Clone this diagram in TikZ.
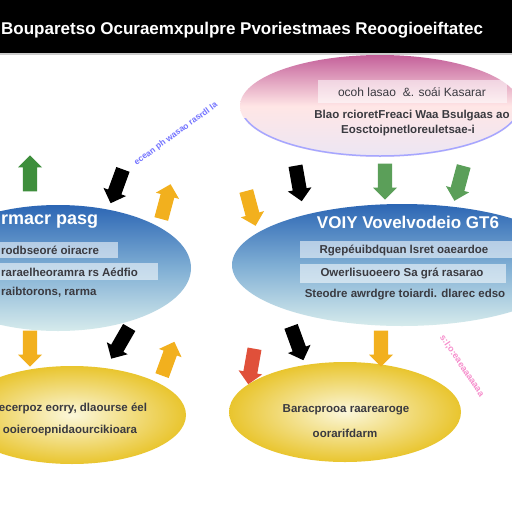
\documentclass[tikz,border=0pt]{standalone}
\usepackage{fontspec}
\setmainfont{Liberation Sans}
\usetikzlibrary{shapes.arrows,shapes.geometric}
\definecolor{pinkT}{HTML}{C4609A}
\definecolor{pinkB}{HTML}{ECE6F4}
\definecolor{blueT}{HTML}{2C66B4}
\definecolor{blueM}{HTML}{7FAED4}
\definecolor{blueB}{HTML}{D6EBEC}
\definecolor{yelO}{HTML}{E9C52E}
\definecolor{yelI}{HTML}{FBF7DA}
\definecolor{txtc}{HTML}{3A3A40}
\definecolor{grn}{HTML}{3E8E3C}
\definecolor{org}{HTML}{F2B01E}
\definecolor{redc}{HTML}{E0503A}
\tikzset{
  ell/.style={ellipse, draw=none, inner sep=0pt},
  tbox/.style={fill=white, fill opacity=0.55, draw=none},
  ln/.style={text=txtc, font=\bfseries\fontsize{11.5}{13}\selectfont, inner sep=0pt},
  hd/.style={text=white, font=\bfseries\fontsize{18}{20}\selectfont, inner sep=0pt},
  arr/.style={single arrow, minimum height=36pt, minimum width=24pt, single arrow head extend=4pt, inner xsep=0pt, inner ysep=5.5pt, draw=none},
}
\begin{document}
\begin{tikzpicture}[x=1pt,y=-1pt]
\useasboundingbox (0,0) rectangle (512,512);
\fill[white] (0,0) rectangle (512,512);
% title bar
\fill[black] (0,0) rectangle (512,53);
\fill[gray!40] (0,53) rectangle (512,55);
\node[text=white, font=\bfseries\fontsize{17}{19}\selectfont, anchor=west, inner sep=0pt] (title) at (1,30) {Bouparetso Ocuraemxpulpre Pvoriestmaes Reoogioeiftatec};

% ellipses
\node[ell, minimum width=280pt, minimum height=102pt, top color=pinkT, bottom color=pinkB, middle color=pink!40!white] (pinkE) at (380,106) {};
\begin{scope}
\clip (230,118) rectangle (512,160);
\draw[blue!35, line width=1.5pt] (pinkE.center) ellipse [x radius=139pt, y radius=50pt];
\end{scope}
\node[ell, minimum width=266pt, minimum height=126pt, top color=blueT, bottom color=blueB, middle color=blueM] (blueL) at (58,268) {};
\node[ell, minimum width=340pt, minimum height=122pt, top color=blueT, bottom color=blueB, middle color=blueM] (blueR) at (402,265) {};
\node[ell, minimum width=228pt, minimum height=98pt, inner color=yelI, outer color=yelO] (yelL) at (72,415) {};
\node[ell, minimum width=232pt, minimum height=100pt, inner color=yelI, outer color=yelO] (yelR) at (345,412) {};

% pink text
\fill[tbox] (318,80) rectangle (507,103);
\node[ln, font=\fontsize{12}{13}\selectfont] (p1) at (412,92) {ocoh lasao \ \&. soái Kasarar};
\node[ln] (p2) at (412,116) {Blao rcioretFreaci Waa Bsulgaas ao};
\node[ln] (p3) at (408,131) {Eosctoipnetloreuletsae-i};

% left blue text
\node[hd, anchor=west] (lh) at (1,222) {rmacr pasg};
\fill[tbox] (0,242) rectangle (118,258);
\fill[tbox] (0,263) rectangle (158,280);
\node[ln, anchor=west] (l1) at (1,250) {rodbseoré oiracre};
\node[ln, anchor=west] (l2) at (1,272) {raraelheoramra rs Aédfio};
\node[ln, anchor=west] (l3) at (1,292) {raibtorons, rarma};

% right blue text
\node[hd, font=\bfseries\fontsize{17}{19}\selectfont] (rh) at (408,222) {VOIY Vovelvodeio GT6};
\fill[tbox] (300,241) rectangle (512,258);
\fill[tbox] (300,264) rectangle (506,283);
\node[ln] (r1) at (404,250) {Rgepéuibdquan lsret oaeardoe};
\node[ln] (r2) at (402,273) {Owerlisuoeero Sa grá rasarao};
\node[ln] (r3) at (405,295) {Steodre awrdgre toiardi. dlarec edso};

% yellow text
\node[ln] (y1) at (73,408) {ecerpoz eorry, dlaourse éel};
\node[ln] (y2) at (70,431) {ooieroepnidaourcikioara};
\node[ln] (y3) at (346,410) {Baracprooa raarearoge};
\node[ln] (y4) at (345,433) {oorarifdarm};

% diagonal labels
\node[text=blue!55, font=\bfseries\fontsize{8.5}{10}\selectfont, rotate=36] (bd) at (176,134) {ecean ph wasao rasrdl la};
\node[text=magenta!45, font=\bfseries\fontsize{9}{10}\selectfont, rotate=-56] (pd) at (462,366) {s:l;o:eaeaaaaaaa};

% arrows (upper row)
\node[arr, fill=grn, rotate=90] (a1) at (30,177) {};
\node[arr, fill=black, rotate=-110] (a2) at (118,183) {};
\node[arr, fill=org, rotate=75] (a3) at (165,205) {};
\node[arr, fill=org, rotate=-75] (a4) at (250,205) {};
\node[arr, fill=black, rotate=-80] (a5) at (298,180) {};
\node[arr, fill=grn!85!white, rotate=-90] (a6) at (385,178) {};
\node[arr, fill=grn!85!white, rotate=-105] (a7) at (460,180) {};
% arrows (lower row)
\node[arr, fill=org, rotate=-90] (b1) at (30,345) {};
\node[arr, fill=black, rotate=-120] (b2) at (122,340) {};
\node[arr, fill=org, rotate=70] (b3) at (167,362) {};
\node[arr, fill=redc, rotate=-100] (b4) at (252,363) {};
\node[arr, fill=black, rotate=-70] (b5) at (296,340) {};
\node[arr, fill=org, rotate=-90] (b6) at (381,345) {};
\end{tikzpicture}
\end{document}
